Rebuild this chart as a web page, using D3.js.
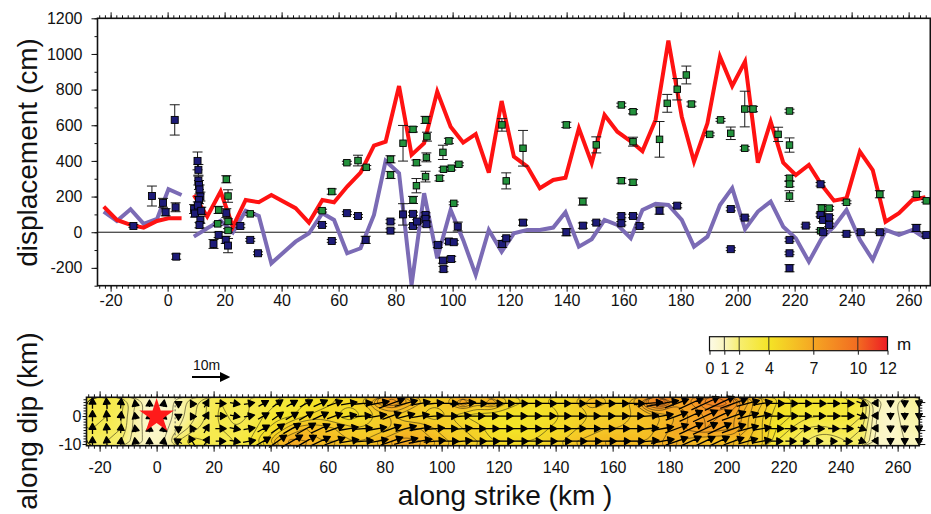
<!DOCTYPE html>
<html>
<head>
<meta charset="utf-8">
<script src="https://cdn.jsdelivr.net/npm/d3@7/dist/d3.min.js"></script>
<style>
    body { margin: 0; background: white; }
    text { font-family: "Liberation Sans", Arial, sans-serif; fill: #111; }
</style>
</head>
<body>
<div id="canvas-div"></div>
<script>
// ---- top panel: model slip profile (cm) along strike (km)
const modelKm1 = [-22.4, -17.8, -13.0, -8.4, -3.7, 0.3, 4.9];
const redVal1 = [144, 69, 41, 26, 63, 78, 78];
const purpleVal1 = [116, 63, 129, 47, 75, 241, 209];

const modelKm2 = [9.2, 13.9, 18.6, 22.9, 27.4, 32, 36.4, 44.9, 49.6, 54.3, 58.4, 63, 67.7, 72.4, 76.5, 81.2, 85.6, 90,
    94.6, 99.3, 103.7, 108.1, 112.7, 117.2, 121.5, 126.2, 130.6, 135.3, 139.6, 144.3, 148.8, 153.3, 157.8, 162.5, 166.6,
    171.2, 175.7, 180.4, 184.7, 189.4, 193.8, 198.1, 202.6, 207.1, 211.6, 216, 220.4, 225, 229.5, 233.8, 238.2, 242.9,
    247.4, 251.9, 256.6, 261.3, 265.9];
const redVal2 = [209, 88, 228, 31, 181, 168, 209, 135, 54, 181, 168, 256, 334, 486, 508, 820, 434, 499, 789, 592, 503,
    550, 334, 736, 424, 368, 247, 293, 306, 583, 387, 658, 564, 510, 455, 630, 1075, 648, 396, 611, 985, 820, 957, 390,
    620, 390, 321, 377, 265, 177, 191, 452, 349, 59, 107, 181, 196];
const purpleVal2 = [-25, 22, 65, 0, 121, 91, -174, -53, -6, 107, 69, -118, -90, 97, 400, 331, -296, 219, -146, 125, -43,
    -239, 13, -109, -6, 13, 13, 26, 112, -81, -39, 69, 41, -34, 125, 159, 153, 69, -81, -25, 153, 247, 17, 116, 172, 31,
    -34, -165, -34, 31, 125, -43, -155, 13, -15, 13, -34];

// observed offsets (cm): green and navy squares with error bars
const greenKm = [17.6, 17.9, 20.6, 21.2, 21.2, 21.2, 29, 54.2, 57.6, 62.9, 66.8, 69.7, 78.2, 78.2, 82.6, 86.1, 86.1, 87.3,
    87.3, 90.5, 91, 90.8, 90.5, 95.4, 96.6, 96.8, 98.7, 99.5, 100.4, 102.2, 117.3, 118.8, 124.7, 139.9, 145.7, 150.4,
    159.2, 159.2, 163.3, 163.3, 163.3, 172.6, 175.3, 178.8, 182, 183.8, 190.2, 194, 197.6, 202.5, 205.4, 202.5, 214.2,
    218.2, 218.2, 218.2, 218.2, 218.2, 229.4, 232.1, 229.4, 229.1, 238.2, 249.9, 262.7, 266.2];
const greenVal = [47, 125, 297, 203, 60, 10, 103, 121, 228, 390, 402, 364, 409, 321, 499, 577, 181, 390, 261, 630, 536,
    420, 312, 303, 448, 353, 512, 359, 162, 381, 602, 288, 471, 602, 172, 490, 714, 289, 676, 508, 280, 521, 723, 802,
    882, 719, 549, 630, 555, 691, 691, 471, 549, 680, 489, 303, 270, 203, 135, 135, 95, 8, 168, 213, 213, 176];
const greenErr = [10, 20, 20, 35, 15, 10, 8, 8, 15, 8, 30, 10, 20, 20, 100, 15, 20, 15, 40, 20, 25, 25, 30, 15, 40, 10,
    15, 10, 8, 8, 35, 45, 100, 15, 20, 45, 10, 15, 12, 25, 15, 100, 50, 60, 50, 12, 8, 8, 35, 100, 15, 10, 40, 10, 40,
    15, 15, 30, 20, 10, 12, 8, 8, 20, 15, 8];

const navyKm = [-12, -5.5, -1.6, -0.7, 2.5, 2.8, 3, 9.3, 9.6, 10.5, 10.8, 10.8, 11, 11.2, 11.5, 11, 10.6, 11.8, 11.5,
    11.2, 16.1, 17.9, 20.4, 21.2, 20.6, 25.5, 29, 31.7, 54.2, 57.6, 62.9, 66.8, 69.5, 78.2, 78.2, 82.6, 86.1, 86.1, 87.5,
    90.5, 90.5, 90.8, 94.8, 96.6, 96.8, 99.5, 98.7, 100.4, 101.8, 117.4, 118.8, 124.7, 139.9, 145.7, 150.4, 159.2,
    159.2, 163.3, 165.6, 172.6, 178.8, 197.6, 197.6, 202.5, 218.2, 218.2, 218.2, 223.9, 229.1, 229.1, 230, 232.1, 232.1,
    230, 238.2, 243.2, 249.9, 262.7, 266.2];
const navyVal = [35, 203, 165, 112, 630, 140, -137, 130, 105, 400, 350, 290, 265, 240, 200, 180, 150, 120, 70, 40, -66,
    -15, -43, -75, 107, 35, -43, -118, 41, -49, 107, 91, -43, 60, 9, 100, 103, 35, 60, 97, 75, 45, -71, -159, -207, -150,
    -52, -56, 32, -66, -34, 54, 0, 37, 54, 91, 50, 91, 35, 121, 149, 130, -95, 82, -43, -118, -202, 37, 269, 97, 69, 84,
    41, 0, -9, 0, 0, 24, -15];
const navyErr = [8, 56, 25, 20, 85, 25, 15, 25, 20, 50, 30, 25, 25, 25, 25, 20, 20, 20, 20, 15, 25, 15, 20, 40, 25, 10,
    8, 8, 8, 8, 8, 8, 20, 10, 10, 60, 10, 10, 10, 12, 12, 12, 15, 15, 15, 15, 10, 10, 25, 20, 10, 15, 20, 15, 10, 10, 10,
    10, 10, 20, 12, 10, 8, 8, 10, 8, 20, 8, 10, 10, 10, 10, 10, 8, 8, 8, 8, 20, 8];

// ---- bottom panel: slip model (m) on fault plane, 5 km patches along strike
const slipStrike = [-22.5, -17.5, -12.5, -7.5, -2.5, 2.5, 7.5, 12.5, 17.5, 22.5, 27.5, 32.5, 37.5, 42.5, 47.5, 52.5,
    57.5, 62.5, 67.5, 72.5, 77.5, 82.5, 87.5, 92.5, 97.5, 102.5, 107.5, 112.5, 117.5, 122.5, 127.5, 132.5, 137.5, 142.5,
    147.5, 152.5, 157.5, 162.5, 167.5, 172.5, 177.5, 182.5, 187.5, 192.5, 197.5, 202.5, 207.5, 212.5, 217.5, 222.5,
    227.5, 232.5, 237.5, 242.5, 247.5, 252.5, 257.5, 262.5, 267.5];
const slipDip = [4.5, 0, -4.5, -9];
const slipRow1 = [3, 3, 2.8, 1.5, 0.7, 0.7, 1.2, 1.8, 2.5, 3, 2.8, 3, 3.2, 3.5, 3.5, 4, 4.2, 4.5, 4.5, 5, 6.5, 7.5, 6.5,
    5.5, 5, 5.5, 7, 5.5, 6.5, 5, 4.5, 4.2, 4.5, 4.5, 5, 6, 5.5, 5, 6, 8, 9, 7, 7.5, 8.5, 9, 8, 6.5, 5.5, 4.5, 4, 3.8, 3.8,
    3.5, 3.5, 3.2, 1.2, 0.8, 1.3, 1.5];
const slipRow2 = [3, 3, 2.5, 1.3, 0.6, 0.6, 1.2, 1.8, 2.5, 3.2, 2.8, 3, 3.5, 3.8, 4, 4.5, 4.8, 4.5, 4.2, 4.5, 5, 5.5, 5,
    5, 4.8, 5, 4.5, 4.2, 4, 4, 4, 4, 4.2, 4.5, 4.8, 5, 5.2, 5, 5.5, 5.8, 6, 6.5, 7, 7.5, 7.5, 7, 6, 5, 4.2, 4, 3.6, 3.5,
    3.5, 3.5, 3, 1, 0.7, 1.2, 1.3];
const slipRow3 = [3, 2.8, 2.5, 1.3, 0.7, 0.8, 1.5, 2.2, 2.8, 3, 3, 3.2, 3.8, 4.5, 5.5, 6, 5.8, 5.5, 5.2, 5, 5.2, 5.5, 6,
    6, 5.5, 5, 5, 4.8, 4.2, 4, 4, 4.2, 4.5, 4.5, 5, 5.2, 5.5, 5.5, 5.5, 5.8, 6.2, 6.8, 7.2, 7.5, 7.2, 7, 6, 5, 4, 3.5, 3,
    2.8, 3, 3, 2.5, 1, 0.7, 1.1, 1.2];
const slipRow4 = [2.5, 2.5, 2, 1.2, 0.8, 1, 2.5, 3.5, 3, 2.8, 3, 3.5, 4.5, 6, 6.8, 6.5, 6, 6, 5.5, 5.5, 6, 6.5, 6.8, 6.5,
    6, 5.5, 5, 5, 4.5, 4.5, 4.5, 4.5, 4.8, 5, 5.5, 5.8, 6, 6, 6, 6, 6.5, 6.5, 6.2, 6, 6, 6, 5.5, 5, 3.5, 3, 2.5, 2, 2,
    2.5, 2.2, 0.8, 0.7, 1, 1];
// slip direction, degrees counter-clockwise from along-strike
const slipRake = [90, 95, 85, 100, 90, 80, 150, 120, 60, 0, -10, 10, 30, 35, 30, 30, 25, 20, 10, 5, 10, 20, 15, 10, 5,
    0, 5, 0, 0, 0, 0, 0, 0, 0, 0, 0, 0, 0, 0, 5, 10, 20, 25, 25, 25, 20, 15, 10, 0, 0, 0, 0, 0, 0, -20, -60, -90, -90,
    -90];
const segmentBreaks = [6.5, 204.5];
const hypocenter = [0, 0];

const colorTicks = [0, 1, 2, 4, 7, 10, 12];
const colorStops = ["#fdfbe6", "#faf5bf", "#f7ee70", "#f4e426", "#f5a623", "#f26b21", "#ed1c24"];
const contourLevels = [1, 1.5, 2, 2.5, 3, 3.5, 4, 4.5, 5, 5.5, 6, 6.5, 7, 7.5, 8, 8.5, 9];
const scaleArrowSlip = 10;

const svgWidth = 931;
const svgHeight = 514;

let svg = d3.select("#canvas-div")
    .append("svg")
    .attr("width", svgWidth)
    .attr("height", svgHeight)
    .style("background-color", "white");

const defs = svg.append("defs");

//================ top panel
const boxTop = { left: 97.5, right: 930.3, top: 18.3, bottom: 285.7 };
const xTop = d3.scaleLinear().domain([-24.6, 267.6]).range([boxTop.left, boxTop.right]);
const yTop = d3.scaleLinear().domain([-300, 1200]).range([boxTop.bottom, boxTop.top]);

function styleAxis(g) {
    g.attr("font-size", null).attr("font-family", null);
    g.select(".domain").remove();
    g.selectAll("line").attr("stroke", "#111");
    g.selectAll("text").attr("font-size", 16);
}

// minor ticks
svg.append("g").attr("transform", "translate(0," + boxTop.bottom + ")")
    .call(d3.axisBottom(xTop).tickValues(d3.range(-24, 268, 2)).tickSize(3).tickFormat(""))
    .call(styleAxis);
svg.append("g").attr("transform", "translate(0," + boxTop.top + ")")
    .call(d3.axisTop(xTop).tickValues(d3.range(-24, 268, 2)).tickSize(3).tickFormat(""))
    .call(styleAxis);
svg.append("g").attr("transform", "translate(" + boxTop.left + ",0)")
    .call(d3.axisLeft(yTop).tickValues(d3.range(-300, 1201, 100)).tickSize(3).tickFormat(""))
    .call(styleAxis);

// major ticks
svg.append("g").attr("transform", "translate(0," + boxTop.bottom + ")")
    .call(d3.axisBottom(xTop).tickValues(d3.range(-20, 261, 20)).tickSize(6).tickPadding(3).tickFormat(d => String(d)))
    .call(styleAxis);
svg.append("g").attr("transform", "translate(0," + boxTop.top + ")")
    .call(d3.axisTop(xTop).tickValues(d3.range(-20, 261, 20)).tickSize(6).tickFormat(""))
    .call(styleAxis);
svg.append("g").attr("transform", "translate(" + boxTop.left + ",0)")
    .call(d3.axisLeft(yTop).tickValues(d3.range(-200, 1201, 200)).tickSize(6).tickPadding(9).tickFormat(d => String(d)))
    .call(styleAxis);

defs.append("clipPath").attr("id", "clip-top")
    .append("rect")
    .attr("x", boxTop.left).attr("y", boxTop.top)
    .attr("width", boxTop.right - boxTop.left).attr("height", boxTop.bottom - boxTop.top);

const plotTop = svg.append("g").attr("clip-path", "url(#clip-top)");

// zero line
plotTop.append("line")
    .attr("x1", boxTop.left).attr("x2", boxTop.right)
    .attr("y1", yTop(0)).attr("y2", yTop(0))
    .attr("stroke", "#111").attr("stroke-width", 1);

//lines
const lineGenerator = d3.line()
    .x(d => xTop(d[0]))
    .y(d => yTop(d[1]));

const modelLines = [
    { km: modelKm1, val: purpleVal1, color: "#7b6bb5" },
    { km: modelKm2, val: purpleVal2, color: "#7b6bb5" },
    { km: modelKm1, val: redVal1, color: "#ff1212" },
    { km: modelKm2, val: redVal2, color: "#ff1212" }
];

plotTop.selectAll(".model-line")
    .data(modelLines)
    .enter()
    .append("path")
    .attr("class", "model-line")
    .attr("d", d => lineGenerator(d.km.map((k, i) => [k, d.val[i]])))
    .attr("fill", "none")
    .attr("stroke", d => d.color)
    .attr("stroke-width", 4)
    .attr("stroke-linejoin", "miter");

//points with error bars
function drawPoints(km, val, err, fill, size) {
    const pts = km.map((k, i) => ({ km: k, val: val[i], err: err[i] }));
    const g = plotTop.append("g");
    const bars = g.selectAll(".err")
        .data(pts)
        .enter()
        .append("g")
        .attr("stroke", "#1a1a1a")
        .attr("stroke-width", 1);
    bars.append("line")
        .attr("x1", d => xTop(d.km)).attr("x2", d => xTop(d.km))
        .attr("y1", d => yTop(d.val + d.err)).attr("y2", d => yTop(d.val - d.err));
    bars.append("line")
        .attr("x1", d => xTop(d.km) - 5).attr("x2", d => xTop(d.km) + 5)
        .attr("y1", d => yTop(d.val + d.err)).attr("y2", d => yTop(d.val + d.err));
    bars.append("line")
        .attr("x1", d => xTop(d.km) - 5).attr("x2", d => xTop(d.km) + 5)
        .attr("y1", d => yTop(d.val - d.err)).attr("y2", d => yTop(d.val - d.err));
    g.selectAll(".pt")
        .data(pts)
        .enter()
        .append("rect")
        .attr("x", d => xTop(d.km) - size / 2)
        .attr("y", d => yTop(d.val) - size / 2)
        .attr("width", size)
        .attr("height", size)
        .attr("fill", fill)
        .attr("stroke", "#000")
        .attr("stroke-width", 0.9);
}
drawPoints(greenKm, greenVal, greenErr, "#23913c", 6.5);
drawPoints(navyKm, navyVal, navyErr, "#1d1b78", 7);

// frame
svg.append("rect")
    .attr("x", boxTop.left).attr("y", boxTop.top)
    .attr("width", boxTop.right - boxTop.left).attr("height", boxTop.bottom - boxTop.top)
    .attr("fill", "none").attr("stroke", "#111").attr("stroke-width", 1.6);

svg.append("text")
    .attr("transform", "translate(37,152.5) rotate(-90)")
    .attr("text-anchor", "middle")
    .attr("font-size", 28)
    .text("displacement (cm)");

//================ bottom panel
const boxBot = { left: 86.5, right: 919.3, top: 397.3, bottom: 445.7 };
const xBot = d3.scaleLinear().domain([-24.6, 267.6]).range([boxBot.left, boxBot.right]);
const yBot = d3.scaleLinear().domain([-10.6, 6.7]).range([boxBot.bottom, boxBot.top]);

const slipColor = d3.scaleLinear().domain(colorTicks).range(colorStops).clamp(true);
const slipRows = [slipRow1, slipRow2, slipRow3, slipRow4];
const cellW = 5, cellH = 4.5;

defs.append("clipPath").attr("id", "clip-bot")
    .append("rect")
    .attr("x", boxBot.left).attr("y", boxBot.top)
    .attr("width", boxBot.right - boxBot.left).attr("height", boxBot.bottom - boxBot.top);

const blur = defs.append("filter").attr("id", "slip-blur")
    .attr("x", "-5%").attr("y", "-40%").attr("width", "110%").attr("height", "180%");
blur.append("feGaussianBlur").attr("stdDeviation", "4.5 3");

const plotBot = svg.append("g").attr("clip-path", "url(#clip-bot)");

// slip cells
const cells = [];
slipRows.forEach((row, r) => {
    row.forEach((v, c) => {
        cells.push({ strike: slipStrike[c], dip: slipDip[r], slip: v, r: r, c: c });
    });
});
const lastRow = slipRows.length - 1;
const lastCol = slipStrike.length - 1;

plotBot.append("g")
    .attr("filter", "url(#slip-blur)")
    .selectAll("rect")
    .data(cells)
    .enter()
    .append("rect")
    .attr("x", d => xBot(d.strike - cellW / 2) - (d.c === 0 ? 20 : 0))
    .attr("y", d => yBot(d.dip + cellH / 2) - (d.r === 0 ? 15 : 0))
    .attr("width", d => xBot(d.strike + cellW / 2) - xBot(d.strike - cellW / 2) + 0.5 +
        (d.c === 0 || d.c === lastCol ? 20 : 0))
    .attr("height", d => yBot(d.dip - cellH / 2) - yBot(d.dip + cellH / 2) + 0.5 +
        (d.r === 0 || d.r === lastRow ? 15 : 0))
    .attr("fill", d => slipColor(d.slip));

// contours of slip
const flat = [];
slipRows.forEach(row => row.forEach(v => flat.push(v)));
const contours = d3.contours().size([slipStrike.length, slipDip.length]).thresholds(contourLevels)(flat);
const gridX = gx => xBot(slipStrike[0] - cellW / 2 + gx * cellW);
const gridY = gy => yBot(slipDip[0] + cellH / 2 - gy * cellH);
const contourLine = d3.line().x(p => gridX(p[0])).y(p => gridY(p[1])).curve(d3.curveBasisClosed);

const rings = [];
contours.forEach(cn => cn.coordinates.forEach(poly => poly.forEach(ring => rings.push(ring))));
plotBot.append("g")
    .selectAll("path")
    .data(rings)
    .enter()
    .append("path")
    .attr("d", d => contourLine(d))
    .attr("fill", "none")
    .attr("stroke", "#2a2610")
    .attr("stroke-opacity", 0.8)
    .attr("stroke-width", 0.7);

// segment breaks
plotBot.selectAll(".seg")
    .data(segmentBreaks)
    .enter()
    .append("line")
    .attr("x1", d => xBot(d)).attr("x2", d => xBot(d))
    .attr("y1", boxBot.top).attr("y2", boxBot.bottom)
    .attr("stroke", "#444").attr("stroke-width", 0.8).attr("stroke-dasharray", "2,2");

// slip vectors
const mPerPx = 3.6;
function arrowPath(x0, y0, x1, y1, head, half) {
    const ang = Math.atan2(y1 - y0, x1 - x0);
    const bx = x1 - head * Math.cos(ang), by = y1 - head * Math.sin(ang);
    const nx = -Math.sin(ang) * half, ny = Math.cos(ang) * half;
    return "M" + x0 + "," + y0 + "L" + bx + "," + by +
        "M" + x1 + "," + y1 + "L" + (bx + nx) + "," + (by + ny) + "L" + (bx - nx) + "," + (by - ny) + "Z";
}

svg.append("g")
    .selectAll("path")
    .data(cells)
    .enter()
    .append("path")
    .attr("d", d => {
        const len = Math.max(d.slip * mPerPx, 7);
        const a = slipRake[d.c] * Math.PI / 180;
        const cx = xBot(d.strike), cy = yBot(d.dip);
        const dx = len * Math.cos(a), dy = -len * Math.sin(a);
        return arrowPath(cx - dx / 2, cy - dy / 2, cx + dx / 2, cy + dy / 2, 6, 3.4);
    })
    .attr("fill", "#000")
    .attr("stroke", "#000")
    .attr("stroke-width", 1.3)
    .attr("stroke-linejoin", "round");

// hypocenter
svg.append("path")
    .attr("d", d3.symbol().type(d3.symbolStar).size(370))
    .attr("transform", "translate(" + xBot(hypocenter[0]) + "," + yBot(hypocenter[1]) + ")")
    .attr("fill", "#ff1a1a");

// bottom panel axes
svg.append("g").attr("transform", "translate(0," + boxBot.bottom + ")")
    .call(d3.axisBottom(xBot).tickValues(d3.range(-24, 268, 2)).tickSize(3).tickFormat(""))
    .call(styleAxis);
svg.append("g").attr("transform", "translate(0," + boxBot.top + ")")
    .call(d3.axisTop(xBot).tickValues(d3.range(-24, 268, 2)).tickSize(3).tickFormat(""))
    .call(styleAxis);
svg.append("g").attr("transform", "translate(0," + boxBot.bottom + ")")
    .call(d3.axisBottom(xBot).tickValues(d3.range(-20, 261, 20)).tickSize(6).tickPadding(10).tickFormat(d => String(d)))
    .call(styleAxis);
svg.append("g").attr("transform", "translate(0," + boxBot.top + ")")
    .call(d3.axisTop(xBot).tickValues(d3.range(-20, 261, 20)).tickSize(6).tickFormat(""))
    .call(styleAxis);
svg.append("g").attr("transform", "translate(" + boxBot.left + ",0)")
    .call(d3.axisLeft(yBot).tickValues(d3.range(-10, 7, 1)).tickSize(3).tickFormat(""))
    .call(styleAxis);
svg.append("g").attr("transform", "translate(" + boxBot.left + ",0)")
    .call(d3.axisLeft(yBot).tickValues([-10, 0]).tickSize(4).tickPadding(1).tickFormat(d => String(d)))
    .call(styleAxis);
svg.append("g").attr("transform", "translate(" + boxBot.right + ",0)")
    .call(d3.axisRight(yBot).tickValues(d3.range(-10, 7, 1)).tickSize(3).tickFormat(""))
    .call(styleAxis);
svg.append("g").attr("transform", "translate(" + boxBot.right + ",0)")
    .call(d3.axisRight(yBot).tickValues([-10, -5, 0, 5]).tickSize(6).tickFormat(""))
    .call(styleAxis);

svg.append("rect")
    .attr("x", boxBot.left).attr("y", boxBot.top)
    .attr("width", boxBot.right - boxBot.left).attr("height", boxBot.bottom - boxBot.top)
    .attr("fill", "none").attr("stroke", "#111").attr("stroke-width", 1.6);

svg.append("text")
    .attr("transform", "translate(37,421) rotate(-90)")
    .attr("text-anchor", "middle")
    .attr("font-size", 28)
    .text("along dip (km)");

svg.append("text")
    .attr("x", 505).attr("y", 505)
    .attr("text-anchor", "middle")
    .attr("font-size", 28)
    .text("along strike (km )");

// scale arrow
svg.append("path")
    .attr("d", arrowPath(192, 377, 192 + scaleArrowSlip * mPerPx, 377, 7, 3.5))
    .attr("fill", "#000").attr("stroke", "#000").attr("stroke-width", 2);
svg.append("text")
    .attr("x", 193).attr("y", 370)
    .attr("font-size", 14)
    .text(scaleArrowSlip + "m");

//================ color bar
const cb = { left: 709.5, right: 887.5, top: 336.7, bottom: 350.7 };
const cbScale = d3.scaleLinear().domain([0, 12]).range([cb.left, cb.right]);

const grad = defs.append("linearGradient").attr("id", "cb-grad");
grad.selectAll("stop")
    .data(colorTicks)
    .enter()
    .append("stop")
    .attr("offset", d => (d / 12 * 100) + "%")
    .attr("stop-color", d => slipColor(d));

svg.append("rect")
    .attr("x", cb.left).attr("y", cb.top)
    .attr("width", cb.right - cb.left).attr("height", cb.bottom - cb.top)
    .attr("fill", "url(#cb-grad)")
    .attr("stroke", "#111").attr("stroke-width", 1.2);

svg.selectAll(".cb-div")
    .data(colorTicks.slice(1, -1))
    .enter()
    .append("line")
    .attr("x1", d => cbScale(d)).attr("x2", d => cbScale(d))
    .attr("y1", cb.top).attr("y2", cb.bottom)
    .attr("stroke", "#222").attr("stroke-width", 0.9);

svg.append("g").attr("transform", "translate(0," + cb.bottom + ")")
    .call(d3.axisBottom(cbScale).tickValues(colorTicks).tickSize(4).tickPadding(8).tickFormat(d => String(d)))
    .call(styleAxis);

svg.append("text")
    .attr("x", 897).attr("y", 350)
    .attr("font-size", 17)
    .text("m");
</script>
</body>
</html>
